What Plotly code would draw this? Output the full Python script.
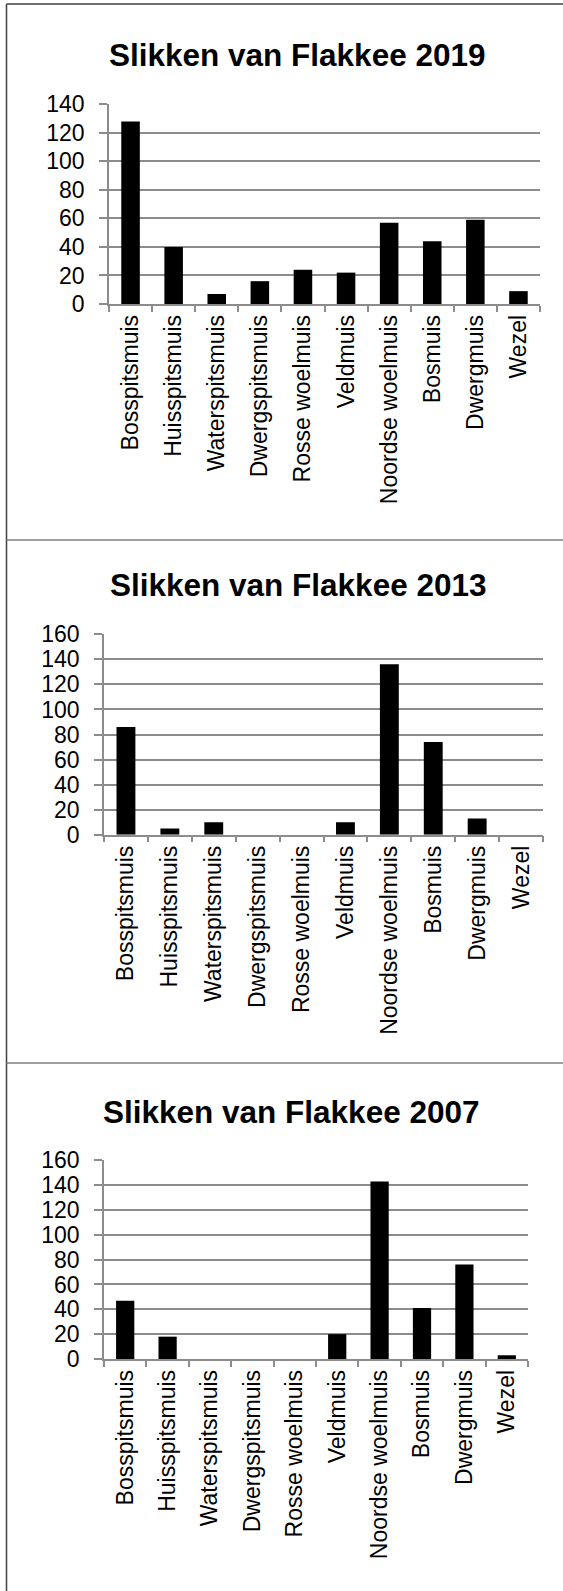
import plotly.graph_objects as go

# ---- data ----
categories = ["Bosspitsmuis", "Huisspitsmuis", "Waterspitsmuis", "Dwergspitsmuis",
              "Rosse woelmuis", "Veldmuis", "Noordse woelmuis", "Bosmuis",
              "Dwergmuis", "Wezel"]
counts_2019 = [128, 40, 7, 16, 24, 22, 57, 44, 59, 9]
counts_2013 = [86, 5, 10, 0, 0, 10, 136, 74, 13, 0]
counts_2007 = [47, 18, 0, 0, 0, 20, 143, 41, 76, 3]
titles = ["Slikken van Flakkee 2019", "Slikken van Flakkee 2013", "Slikken van Flakkee 2007"]
y_max = [140, 160, 160]

# ---- layout geometry (pixels) ----
W, H = 563, 1591
def fx(p):
    return p / W
def fy(p):
    return 1 - p / H

# (x_left, x_right, y_top_px, y_zero_px, title_cx, title_cy)
panels = [
    (109, 540, 104.3, 304.0, 297.5, 55),
    (104, 543, 634.3, 834.7, 298, 585),
    (104, 528, 1160.3, 1359.0, 291, 1112),
]
series = [counts_2019, counts_2013, counts_2007]

FONT = "Liberation Sans, Arial, sans-serif"
GRID = "#8c8c8c"

fig = go.Figure()
layout = dict(
    width=W, height=H,
    margin=dict(l=0, r=0, t=0, b=0),
    paper_bgcolor="white", plot_bgcolor="white",
    showlegend=False, bargap=0.57,
    font=dict(family=FONT, color="black", size=23),
    annotations=[], shapes=[],
)

for i, (vals, (xl, xr, yt, y0, tcx, tcy)) in enumerate(zip(series, panels)):
    n = "" if i == 0 else str(i + 1)
    fig.add_trace(go.Bar(x=categories, y=vals, marker=dict(color="black", line=dict(width=0)),
                         xaxis="x" + n, yaxis="y" + n))
    layout["xaxis" + n] = dict(
        domain=[fx(xl), fx(xr)], anchor="y" + n, type="category",
        showline=True, linecolor=GRID, linewidth=1.5,
        ticks="outside", tickson="boundaries", ticklen=6, tickcolor=GRID, tickwidth=1.5,
        tickangle=-90, tickfont=dict(size=23, family=FONT, color="black"),
        showgrid=False, fixedrange=True, automargin=False,
    )
    layout["yaxis" + n] = dict(
        domain=[fy(y0), fy(yt)], anchor="x" + n, range=[0, y_max[i]], dtick=20,
        showline=True, linecolor=GRID, linewidth=1.5,
        ticks="outside", ticklen=8, tickcolor=GRID, tickwidth=1.5,
        showgrid=True, gridcolor=GRID, gridwidth=1.5, zeroline=False,
        tickfont=dict(size=23, family=FONT, color="black"),
        ticklabelstandoff=10, fixedrange=True, automargin=False,
    )
    layout["annotations"].append(dict(
        text="<b>%s</b>" % titles[i], x=fx(tcx), y=fy(tcy), xref="paper", yref="paper",
        xanchor="center", yanchor="middle", showarrow=False,
        font=dict(size=31.5, family=FONT, color="black"),
    ))

# panel frames
line_dark = dict(color="#404040", width=1.5)
line_sep = dict(color="#7f7f7f", width=1.5)
layout["shapes"] += [
    dict(type="line", xref="paper", yref="paper", x0=fx(6.5), x1=1, y0=fy(4), y1=fy(4), line=line_dark),
    dict(type="line", xref="paper", yref="paper", x0=fx(6.5), x1=fx(6.5), y0=fy(4), y1=0, line=line_dark),
    dict(type="line", xref="paper", yref="paper", x0=fx(6.5), x1=1, y0=fy(540), y1=fy(540), line=line_sep),
    dict(type="line", xref="paper", yref="paper", x0=fx(6.5), x1=1, y0=fy(1063), y1=fy(1063), line=line_sep),
]

fig.update_layout(**layout)
fig.write_html("out.html",
               post_script="document.body.style.margin='0';document.body.style.overflow='hidden';")
